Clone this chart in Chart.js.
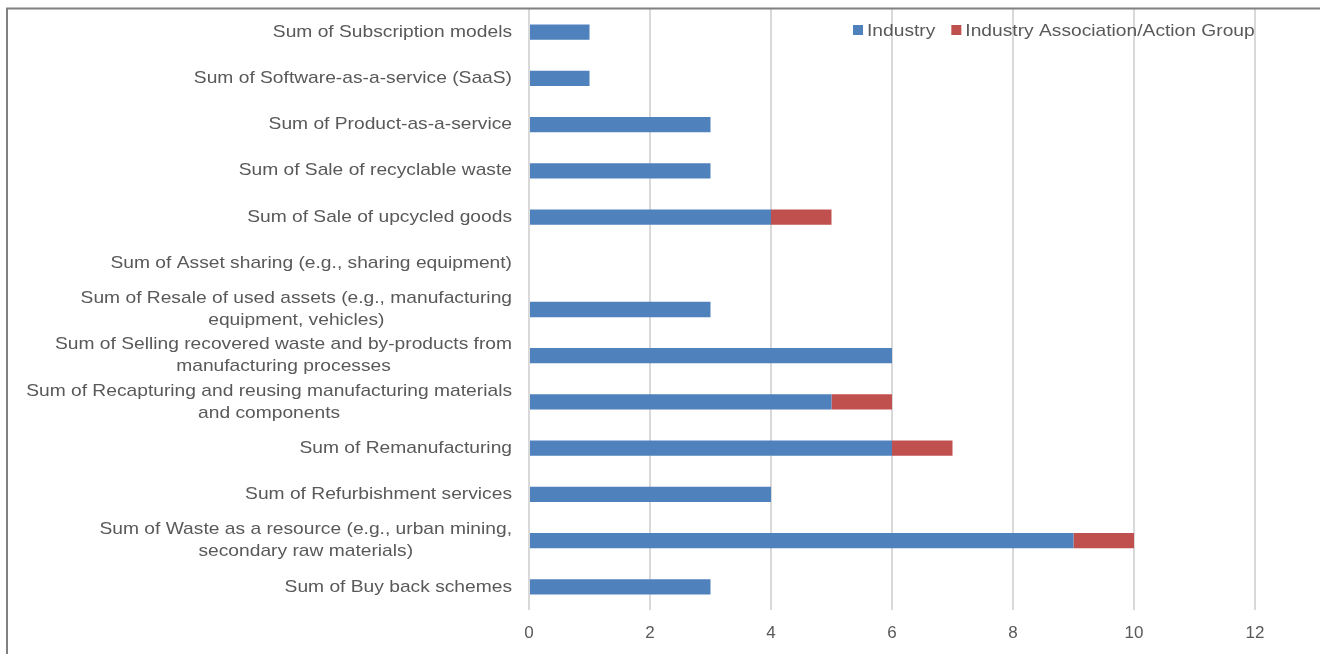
<!DOCTYPE html>
<html>
<head>
<meta charset="utf-8">
<script src="https://cdn.jsdelivr.net/npm/chart.js@4"></script>
<style>
    html, body { margin: 0; padding: 0; background: #ffffff; }
    #wrap { width: 1320px; height: 654px; position: relative; }
</style>
</head>
<body>
<div id="wrap"><canvas id="modelsChart"></canvas></div>
<script>
        const categories = [
            "Sum of Subscription models",
            "Sum of Software-as-a-service (SaaS)",
            "Sum of Product-as-a-service",
            "Sum of Sale of recyclable waste",
            "Sum of Sale of upcycled goods",
            "Sum of Asset sharing (e.g., sharing equipment)",
            ["Sum of Resale of used assets (e.g., manufacturing", "equipment, vehicles)"],
            ["Sum of Selling recovered waste and by-products from", "manufacturing processes"],
            ["Sum of Recapturing and reusing manufacturing materials", "and components"],
            "Sum of Remanufacturing",
            "Sum of Refurbishment services",
            ["Sum of Waste as a resource (e.g., urban mining,", "secondary raw materials)"],
            "Sum of Buy back schemes"
        ];
        const industry = [1, 1, 3, 3, 4, 0, 3, 6, 5, 6, 4, 9, 3];
        const associations = [0, 0, 0, 0, 1, 0, 0, 0, 1, 1, 0, 1, 0];
        const xTicks = [0, 2, 4, 6, 8, 10, 12];

        const FONT = "'Liberation Sans', Arial, sans-serif";
        const TEXT = "#595959";
        const STRETCH = 1.13;   // labels are set a little wide

        // text drawn with horizontal stretch, x is the left edge in page pixels
        function wideText(ctx, str, x, y) {
            ctx.save();
            ctx.translate(x, y);
            ctx.scale(STRETCH, 1);
            ctx.textAlign = "left";
            ctx.fillText(str, 0, 0);
            ctx.restore();
        }

        // category labels: right edge fixed, wrapped lines centred on each other
        const labelPlugin = {
            id: "labels",
            afterDraw(chart) {
                const ctx = chart.ctx;
                const y = chart.scales.y;
                ctx.save();
                ctx.font = "17px " + FONT;
                ctx.fillStyle = TEXT;
                ctx.textBaseline = "middle";
                chart.data.labels.forEach((lab, i) => {
                    const lines = Array.isArray(lab) ? lab : [lab];
                    const widths = lines.map(l => ctx.measureText(l).width * STRETCH);
                    const w = Math.max(...widths);
                    const cx = 512 - w / 2;
                    const cy = y.getPixelForValue(i);
                    const lh = 22;
                    lines.forEach((l, k) => {
                        wideText(ctx, l, cx - widths[k] / 2, cy + (k - (lines.length - 1) / 2) * lh);
                    });
                });
                ctx.restore();
            }
        };

        // legend in the upper right plus the outer frame
        const legendPlugin = {
            id: "legendFrame",
            afterDraw(chart) {
                const ctx = chart.ctx;
                ctx.save();
                ctx.font = "17px " + FONT;
                ctx.textBaseline = "middle";
                let x = 853;
                chart.data.datasets.forEach(ds => {
                    ctx.fillStyle = ds.backgroundColor;
                    ctx.fillRect(x, 25, 10, 10);
                    ctx.fillStyle = TEXT;
                    wideText(ctx, ds.label, x + 14, 31);
                    x += 14 + ctx.measureText(ds.label).width * STRETCH + 16;
                });
                ctx.strokeStyle = "#808080";
                ctx.lineWidth = 2;
                ctx.beginPath();
                ctx.moveTo(7, 654);
                ctx.lineTo(7, 8.5);
                ctx.lineTo(1320, 8.5);
                ctx.stroke();
                ctx.restore();
            }
        };

        new Chart(
            document.getElementById("modelsChart"),
            {
                type: "bar",
                data: {
                    labels: categories,
                    datasets: [{
                        label: "Industry",
                        data: industry,
                        backgroundColor: "#4f81bd"
                    }, {
                        label: "Industry Association/Action Group",
                        data: associations,
                        backgroundColor: "#c0504d"
                    }]
                },
                options: {
                    indexAxis: "y",
                    responsive: true,
                    maintainAspectRatio: false,
                    animation: false,
                    layout: { padding: { left: 529, right: 65, top: 9, bottom: 4 } },
                    datasets: { bar: { barPercentage: 0.33, categoryPercentage: 1 } },
                    plugins: {
                        legend: { display: false },
                        tooltip: { enabled: false }
                    },
                    scales: {
                        x: {
                            stacked: true,
                            min: 0,
                            max: 12,
                            afterBuildTicks: s => { s.ticks = xTicks.map(v => ({ value: v })); },
                            afterFit: s => { s.height = 40; },
                            grid: { color: "#d9d9d9", lineWidth: 2, drawTicks: false },
                            border: { display: false },
                            ticks: {
                                color: TEXT,
                                padding: 13,
                                font: { family: FONT, size: 17 }
                            }
                        },
                        y: {
                            stacked: true,
                            display: false
                        }
                    }
                },
                plugins: [labelPlugin, legendPlugin]
            }
        );
</script>
</body>
</html>
